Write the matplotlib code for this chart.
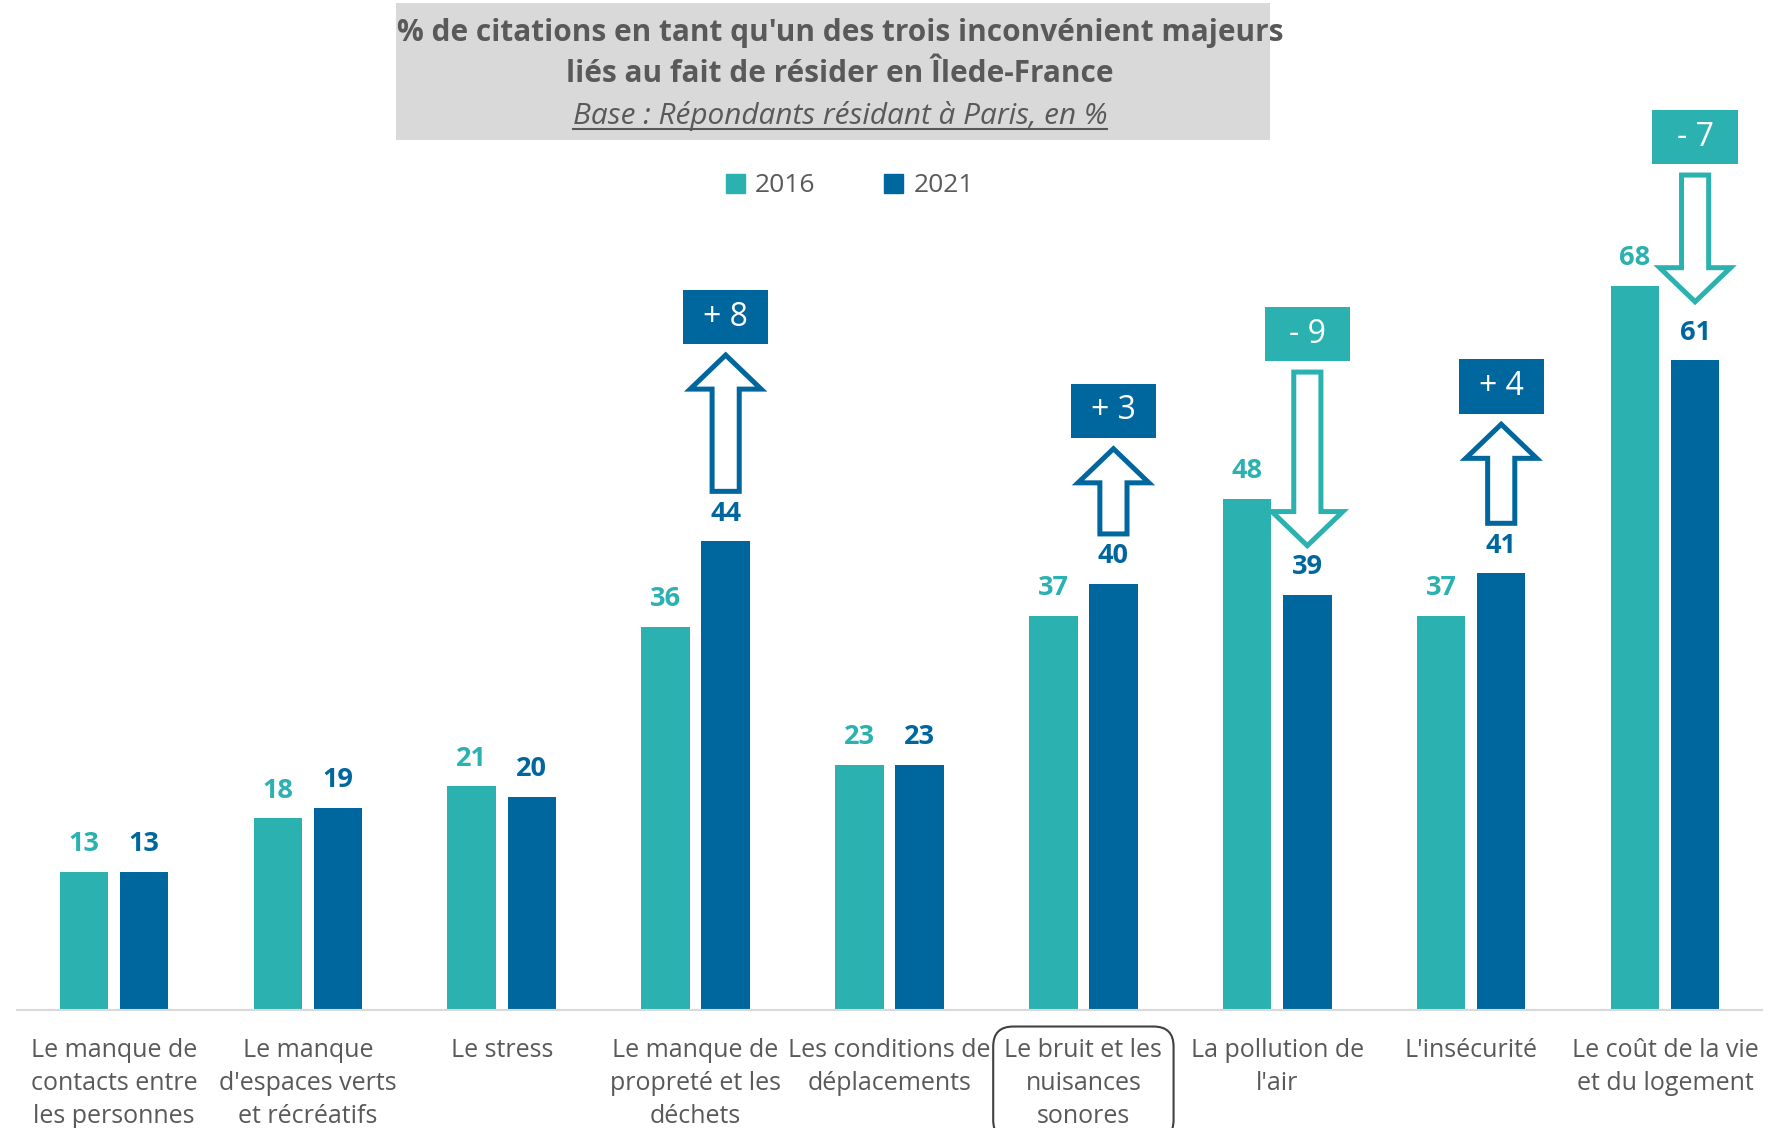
import matplotlib
matplotlib.use("Agg")
import matplotlib.pyplot as plt
from matplotlib import font_manager
from matplotlib.patches import Polygon, Rectangle, Patch
import numpy as np

# ---------------- data ----------------
categories = [
    "Le manque de\ncontacts entre\nles personnes",
    "Le manque\nd'espaces verts\net récréatifs",
    "Le stress",
    "Le manque de\npropreté et les\ndéchets",
    "Les conditions de\ndéplacements",
    "Le bruit et les\nnuisances\nsonores",
    "La pollution de\nl'air",
    "L'insécurité",
    "Le coût de la vie\net du logement",
]
series_names = ["2016", "2021"]
values_2016 = [13, 18, 21, 36, 23, 37, 48, 37, 68]
values_2021 = [13, 19, 20, 44, 23, 40, 39, 41, 61]
highlighted = [3, 5, 6, 7, 8]          # categories with an evolution arrow
boxed_label = 5

title_lines = [
    "% de citations en tant qu'un des trois inconvénient majeurs",
    "liés au fait de résider en Îlede-France",
    "Base : Répondants résidant à Paris, en %",
]

# ---------------- style ----------------
C16 = "#2CB1B1"
C21 = "#00679E"
GREY = "#595959"

names = {f.name for f in font_manager.fontManager.ttflist}
TXT = "Liberation Sans Narrow" if "Liberation Sans Narrow" in names else "Open Sans"
NUM = "Open Sans"

W, H = 1785, 1128
fig = plt.figure(figsize=(W / 100, H / 100), dpi=100)
px_per_unit = 10.65
base_px = 1010
ax = fig.add_axes([17 / W, (H - base_px) / H, (1762 - 17) / W, base_px / H])
ax.set_xlim(-0.5, len(categories) - 0.5)
ax.set_ylim(0, base_px / px_per_unit)

x = np.arange(len(categories))
bw = 0.25
off = 0.155
b1 = ax.bar(x - off, values_2016, bw, color=C16, zorder=2)
b2 = ax.bar(x + off, values_2021, bw, color=C21, zorder=2)

for xi, v in zip(x, values_2016):
    ax.text(xi - off, v + 2.6, f"{v}", ha="center", va="center", color=C16,
            fontsize=19.5, fontweight="bold", family=NUM)
for xi, v in zip(x, values_2021):
    ax.text(xi + off, v + 2.6, f"{v}", ha="center", va="center", color=C21,
            fontsize=19.5, fontweight="bold", family=NUM)

for s in ["top", "left", "right"]:
    ax.spines[s].set_visible(False)
ax.spines["bottom"].set_color("#D9D9D9")
ax.spines["bottom"].set_linewidth(1.5)
ax.set_yticks([])
ax.set_xticks(x, categories)
ax.tick_params(axis="x", length=0, pad=20)
for lab in ax.get_xticklabels():
    lab.set_fontsize(18)
    lab.set_family(TXT)
    lab.set_color(GREY)
    lab.set_linespacing(1.42)
lb = ax.get_xticklabels()[boxed_label]
lb.set_bbox(dict(boxstyle="round,pad=0.45,rounding_size=0.8", fc="none",
                 ec="#404040", lw=1.5))

# ---------------- evolution arrows ----------------
arrow_len = {3: 12.8, 5: 8.0, 6: 16.3, 7: 9.3, 8: 11.9}
arrow_gap = {3: 4.7, 5: 4.7, 6: 4.6, 7: 4.7, 8: 5.5}
sw, hw, hl = 0.07, 0.183, 3.2
for i in highlighted:
    d = values_2021[i] - values_2016[i]
    cx = x[i] + off
    up = d > 0
    col = C21 if up else C16
    if up:
        y0 = values_2021[i] + arrow_gap[i]
        y1 = y0 + arrow_len[i]
        pts = [(cx - sw, y0), (cx + sw, y0), (cx + sw, y1 - hl), (cx + hw, y1 - hl),
               (cx, y1), (cx - hw, y1 - hl), (cx - sw, y1 - hl)]
        top = y1
    else:
        y1 = values_2021[i] + arrow_gap[i]
        y0 = y1 + arrow_len[i]
        pts = [(cx - sw, y0), (cx + sw, y0), (cx + sw, y1 + hl), (cx + hw, y1 + hl),
               (cx, y1), (cx - hw, y1 + hl), (cx - sw, y1 + hl)]
        top = y0
    ax.add_patch(Polygon(pts, closed=True, fc="white", ec=col, lw=3.6,
                         joinstyle="miter", zorder=3, clip_on=False))
    bh, bwid = 5.1, 0.44
    by = top + 1.0
    ax.add_patch(Rectangle((cx - bwid / 2, by), bwid, bh, fc=col, ec="none",
                           zorder=3, clip_on=False))
    sign = "+" if up else "-"
    ax.text(cx, by + bh / 2, f"{sign} {abs(d)}", ha="center", va="center",
            color="white", fontsize=23, family=NUM, zorder=4)

# ---------------- title ----------------
fig.patches.append(Rectangle((396 / W, 1 - 140 / H), (1270 - 396) / W, 137 / H,
                             transform=fig.transFigure, fc="#D9D9D9", ec="none",
                             zorder=0))
tx = 840 / W
fs_t = 21.4
fig.text(tx, 1 - 33 / H, title_lines[0], ha="center", va="center", fontsize=fs_t,
         fontweight="bold", color=GREY, family=TXT)
fig.text(tx, 1 - 74 / H, title_lines[1], ha="center", va="center", fontsize=fs_t,
         fontweight="bold", color=GREY, family=TXT)
t3 = fig.text(tx, 1 - 116 / H, title_lines[2], ha="center", va="center",
              fontsize=fs_t, style="italic", color=GREY, family=TXT)
fig.canvas.draw()
bb = t3.get_window_extent()
uy = 1 - 129 / H
fig.add_artist(plt.Line2D([bb.x0 / W, bb.x1 / W], [uy, uy], transform=fig.transFigure,
                          color=GREY, lw=1.5))

# ---------------- legend ----------------
handles = [Patch(color=C16), Patch(color=C21)]
fig.legend(handles, series_names, loc="center", bbox_to_anchor=(850 / W, 1 - 186 / H),
           ncol=2, frameon=False, handlelength=0.7, handleheight=0.7,
           handletextpad=0.4, columnspacing=2.6,
           prop={"family": NUM, "size": 19}, labelcolor=GREY)

fig.savefig("out.png", dpi=100)
